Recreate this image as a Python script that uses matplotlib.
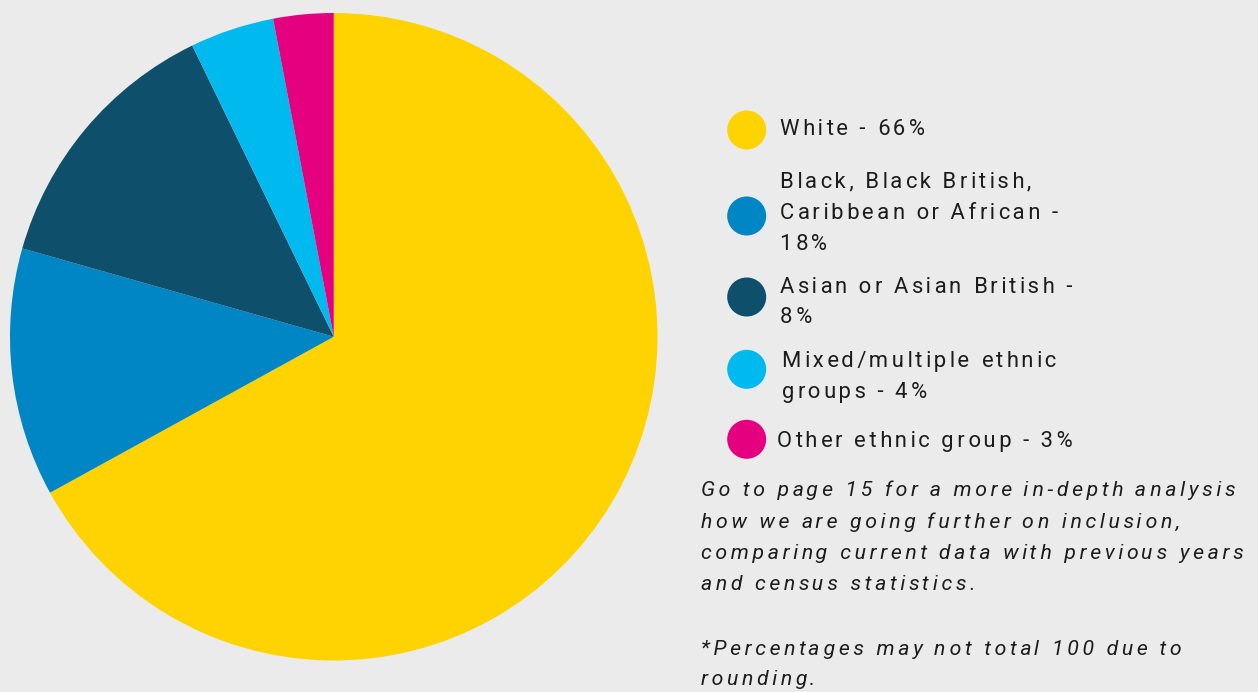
import matplotlib.pyplot as plt
from matplotlib.patches import Circle
from matplotlib.font_manager import FontProperties

groups = ["White", "Black, Black British, Caribbean or African",
          "Asian or Asian British", "Mixed/multiple ethnic groups",
          "Other ethnic group"]
shares = [67.0, 12.4, 13.4, 4.2, 3.0]
colors = ["#FFD300", "#0086C5", "#0E4F6B", "#00BAEF", "#E5007F"]
legend_lines = [
    ["White - 66%"],
    ["Black, Black British,", "Caribbean or African -", "18%"],
    ["Asian or Asian British -", "8%"],
    ["Mixed/multiple ethnic", "groups - 4%"],
    ["Other ethnic group - 3%"],
]
note_lines = [
    "Go to page 15 for a more in-depth analysis",
    "how we are going further on inclusion,",
    "comparing current data with previous years",
    "and census statistics.",
    "",
    "*Percentages may not total 100 due to",
    "rounding.",
]

BG = "#EBEBEB"
INK = "#1C1C1C"
W, H = 1258, 692
fam = ["Roboto", "DejaVu Sans"]

fig = plt.figure(figsize=(W / 100, H / 100), dpi=100, facecolor=BG)
renderer = fig.canvas.get_renderer()

legend_font = FontProperties(family=fam, size=15.8)
note_font = FontProperties(family=fam, size=15.3, style="italic")


def text_width(s, prop):
    w, h, d = renderer.get_text_width_height_descent(s, prop, ismath=False)
    return w


SPACERS = ["", "\u200a", "\u2006", "\u2009", "\u2005"]


def spacer_widths(prop):
    base = text_width("xx", prop)
    return {sp: text_width("x" + sp + "x", prop) - base for sp in SPACERS}


def spaced(s, track, prop):
    # letter spacing by slipping narrow space characters between glyphs
    sw = spacer_widths(prop)
    out, acc = s[0], 0.0
    for i, ch in enumerate(s[1:], 1):
        want = track * i - acc
        sp = min(SPACERS, key=lambda q: abs(sw[q] - want))
        acc += sw[sp]
        out += sp + ch
    return out


def fit_track(line, target, prop):
    return (target - text_width(line, prop)) / (len(line) - 1)


legend_track = fit_track("Caribbean or African -", 278, legend_font)
note_track = fit_track(note_lines[0], 534, note_font)

# pie
ax = fig.add_axes([10 / W, (H - 660.5) / H, 647.5 / W, 647.5 / H])
ax.pie(shares, colors=colors, startangle=90, counterclock=False,
       radius=1, wedgeprops=dict(linewidth=0))
ax.set_xlim(-1, 1)
ax.set_ylim(-1, 1)
ax.set_aspect("equal")
ax.axis("off")

# legend and notes in pixel coordinates
ov = fig.add_axes([0, 0, 1, 1])
ov.set_xlim(0, W)
ov.set_ylim(H, 0)
ov.axis("off")
ov.patch.set_alpha(0)

dot_y = [130, 216, 297, 369.3, 439.3]
text_x = [780, 780, 780, 782, 777]
baselines = [[135], [187.3, 219, 250], [292.7, 322.7], [366.7, 398.3], [446.7]]
for c, y, tx, lines, bl in zip(colors, dot_y, text_x, legend_lines, baselines):
    ov.add_patch(Circle((746.7, y), 19.5, color=c, lw=0))
    for line, b in zip(lines, bl):
        ov.text(tx, b, spaced(line, legend_track, legend_font),
                fontproperties=legend_font, color=INK,
                va="baseline", ha="left")

note_base = [496, 528, 559.3, 590, 622, 655, 685]
for line, b in zip(note_lines, note_base):
    if line:
        ov.text(701, b, spaced(line, note_track, note_font),
                fontproperties=note_font, color=INK,
                va="baseline", ha="left")

fig.savefig("out.png", dpi=100, facecolor=BG)
